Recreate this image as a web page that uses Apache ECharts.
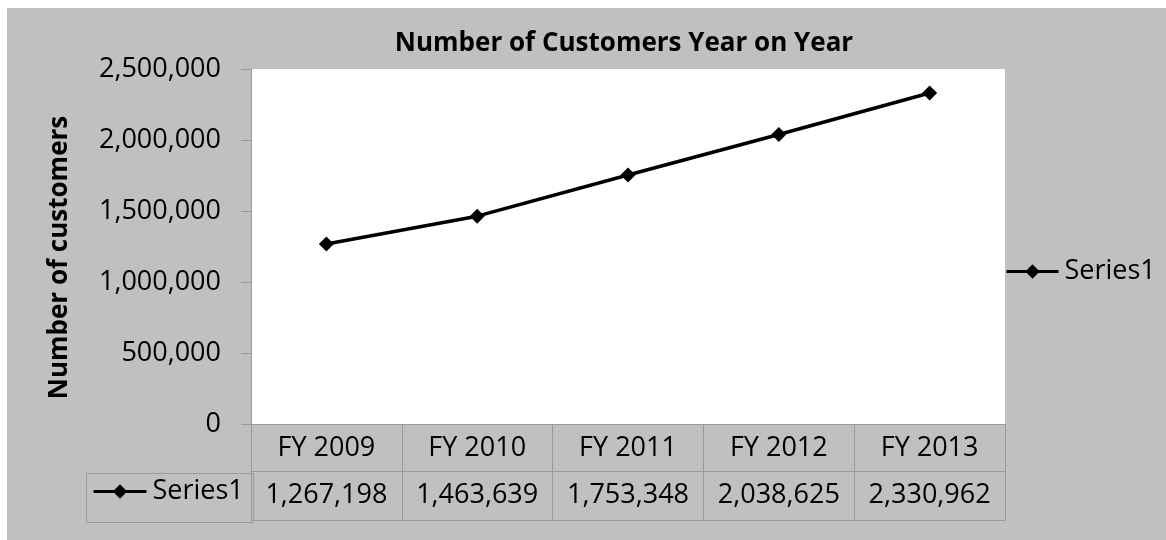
<!DOCTYPE html>
<html>
<head>
<meta charset="utf-8">
<script src="https://cdn.jsdelivr.net/npm/echarts@6/dist/echarts.min.js"></script>
<style>
html,body{margin:0;padding:0;background:#fff;width:1166px;height:540px;overflow:hidden;}
#chart{position:absolute;left:7px;top:8px;width:1159px;height:532px;background:#c0c0c0;}
</style>
</head>
<body>
<div id="chart"></div>
<script>
const categories = ['FY 2009', 'FY 2010', 'FY 2011', 'FY 2012', 'FY 2013'];
const seriesName = 'Series1';
const values = [1267198, 1463639, 1753348, 2038625, 2330962];
const yTicks = { min: 0, max: 2500000, interval: 500000 };
const titleText = 'Number of Customers Year on Year';
const yAxisTitle = 'Number of customers';

const fmt = v => Number(v).toLocaleString('en-US');
const FONT = 'Open Sans';
const FS = 27;
const GRID_COLOR = '#9a9a9a';

const chart = echarts.init(document.getElementById('chart'));
const legendBase = {
  data: [seriesName], padding: 0, itemGap: 0, itemHeight: 18,
  lineStyle: { width: 3, color: '#000' },
  itemStyle: { color: '#000' },
  textStyle: { fontFamily: FONT, fontSize: FS, color: '#000', padding: [0, 0, 0, 1] }
};
const option = {
  backgroundColor: 'transparent',
  animation: false,
  textStyle: { fontFamily: FONT, color: '#000' },
  title: {
    text: titleText,
    left: 612, top: 18, textAlign: 'center',
    textStyle: { fontFamily: FONT, fontSize: 26, fontWeight: 'bold', color: '#000' }
  },
  legend: [
    Object.assign({}, legendBase, { left: 998, top: 250, itemWidth: 52 }),
    Object.assign({}, legendBase, { left: 85, top: 470, itemWidth: 53 })
  ],
  grid: {
    left: 244, top: 61, right: 161, bottom: 116,
    show: true, backgroundColor: '#fff', borderWidth: 0
  },
  xAxis: [
    {
      type: 'category', data: categories, position: 'bottom', offset: 0,
      boundaryGap: true,
      axisLine: { show: true, lineStyle: { color: GRID_COLOR, width: 1 } },
      axisTick: { show: true, length: 47, inside: false, lineStyle: { color: GRID_COLOR, width: 1 } },
      axisLabel: { fontFamily: FONT, fontSize: FS, color: '#000', margin: 11, interval: 0 }
    },
    {
      type: 'category', data: values.map(fmt), position: 'bottom', offset: 47,
      boundaryGap: true,
      axisLine: { show: true, lineStyle: { color: GRID_COLOR, width: 1 } },
      axisTick: { show: true, length: 49, inside: false, lineStyle: { color: GRID_COLOR, width: 1 } },
      axisLabel: { fontFamily: FONT, fontSize: FS, color: '#000', margin: 11, interval: 0 }
    },
    {
      type: 'category', data: categories, position: 'bottom', offset: 96,
      boundaryGap: true,
      axisLine: { show: true, lineStyle: { color: GRID_COLOR, width: 1 } },
      axisTick: { show: false },
      axisLabel: { show: false }
    }
  ],
  yAxis: {
    type: 'value', min: yTicks.min, max: yTicks.max, interval: yTicks.interval,
    name: yAxisTitle, nameLocation: 'middle', nameGap: 178,
    nameTextStyle: { fontFamily: FONT, fontSize: 26, fontWeight: 'bold', color: '#000', padding: [0, 22, 0, 0] },
    axisLine: { show: true, lineStyle: { color: GRID_COLOR, width: 1 } },
    axisTick: { show: true, length: 10, lineStyle: { color: GRID_COLOR, width: 1 } },
    splitLine: { show: false },
    axisLabel: { fontFamily: FONT, fontSize: FS, color: '#000', margin: 30, formatter: v => fmt(v) }
  },
  graphic: [
    {
      type: 'rect', left: 77, top: 463, z: 10, silent: true,
      shape: { width: 167, height: 49 },
      style: { fill: 'none', stroke: GRID_COLOR, lineWidth: 1 }
    }
  ],
  series: [
    {
      name: seriesName, type: 'line', data: values, xAxisIndex: 0,
      symbol: 'diamond', symbolSize: 15,
      lineStyle: { color: '#000', width: 3.5 },
      itemStyle: { color: '#000' }
    }
  ]
};
chart.setOption(option);
</script>
</body>
</html>
